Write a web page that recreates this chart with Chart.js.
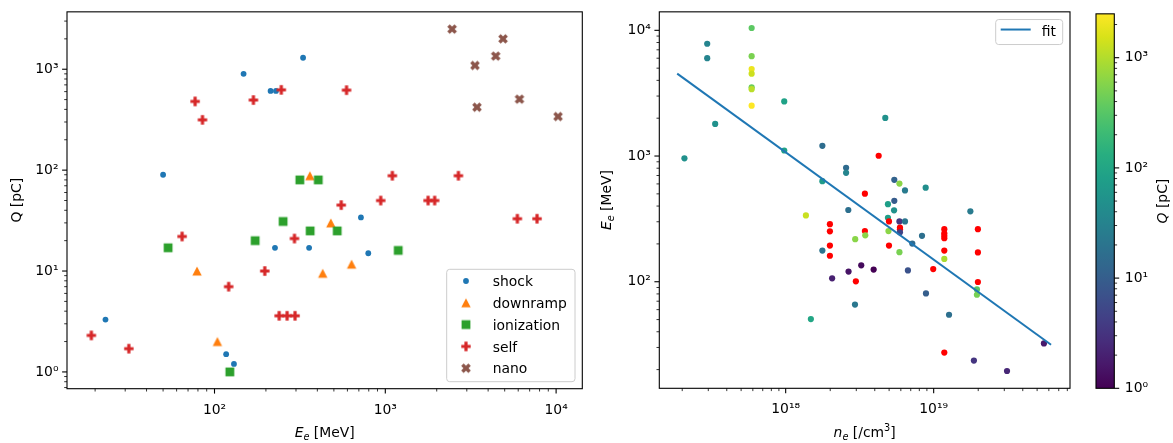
<!DOCTYPE html>
<html><head><meta charset="utf-8">
<script src="https://cdn.jsdelivr.net/npm/chart.js@4/dist/chart.umd.min.js"></script>
<style>
html,body{margin:0;padding:0;background:#fff;width:1173px;height:443px;overflow:hidden;}
canvas{position:absolute;top:0;}
</style></head><body>
<canvas id="c1" style="left:0px" width="600" height="443"></canvas>
<canvas id="c2" style="left:600px" width="480" height="443"></canvas>
<canvas id="c3" style="left:1080px" width="93" height="443"></canvas>
<script>
// ---------------- DATA ----------------
// Left panel: beam energy E_e [MeV] (x) vs. charge Q [pC] (y), by injection method
const seriesNames = ['shock', 'downramp', 'ionization', 'self', 'nano'];
const shockE = [23, 50, 117, 130, 148, 213, 229, 226, 330, 358, 720, 795];
const shockQ = [3.3, 90, 1.5, 1.2, 900, 610, 610, 17, 1300, 17, 34, 15];
const downrampE = [79, 104, 362, 430, 480, 635];
const downrampQ = [10, 2, 88, 9.5, 30, 11.7];
const ionizationE = [53.5, 123, 173, 252, 316, 363, 405, 523, 1190];
const ionizationQ = [17, 1, 20, 31, 80, 25, 80, 25, 16];
const selfE = [19, 31.5, 64.6, 77, 85, 121, 169, 197, 239, 246, 266, 294, 296, 552, 593, 940, 1100, 1780, 1945, 2680, 5930, 7730];
const selfQ = [2.3, 1.7, 22, 480, 315, 7, 495, 10, 3.6, 625, 3.6, 21, 3.6, 45, 620, 50, 88, 50, 50, 88, 33, 33];
const nanoE = [2460, 3350, 3440, 4430, 4890, 6100, 10260];
const nanoQ = [2500, 1090, 420, 1350, 2000, 505, 340];

// Right panel: plasma density n_e [/cm^3] (x) vs. E_e [MeV] (y), coloured by Q [pC] (null = no charge -> red)
const densityNe = [2.07e17, 2.95e17, 2.95e17, 3.34e17, 5.89e17, 5.89e17, 5.89e17, 5.89e17, 5.89e17, 5.89e17,
  5.89e17, 9.78e17, 9.78e17, 1.77e18, 2.56e18, 2.56e18, 1.77e18, 3.43e18, 4.25e18, 4.71e18,
  2.65e18, 1.37e18, 5.42e18, 5.87e18, 5.42e18, 4.91e18, 5.40e18, 4.91e18, 5.87e18, 6.40e18,
  4.99e18, 5.92e18, 5.92e18, 5.92e18, 4.95e18, 8.34e18, 7.17e18, 4.99e18, 5.87e18, 6.70e18,
  8.87e18, 1.18e19, 1.18e19, 1.18e19, 1.18e19, 1.18e19, 1.18e19, 9.93e18, 1.77e19, 1.99e19,
  1.99e19, 1.99e19, 1.96e19, 1.96e19, 1.27e19, 1.18e19, 1.87e19, 3.13e19, 5.56e19, 1.48e18,
  2.94e18, 1.99e18, 1.99e18, 3.43e18, 3.45e18, 2.95e18, 1.99e18, 1.99e18, 1.77e18, 3.24e18,
  3.93e18, 2.66e18, 2.06e18, 2.98e18, 6.40e18, 8.83e18];
const energyEe = [958, 7820, 6000, 1800, 10440, 6225, 4920, 4520, 3525, 3400,
  2515, 2720, 1107, 1205, 805, 735, 631, 502, 1005, 2010,
  372, 337, 647, 604, 440, 414, 370, 323, 302, 302,
  302, 270, 262, 247, 253, 232, 201, 194, 172, 123,
  80.8, 262, 243, 232, 222, 177, 152, 126, 363, 262,
  171, 99.5, 86.9, 78.8, 54.6, 27.3, 23.6, 19.5, 32.3, 50.5,
  65.8, 287, 252, 253, 234, 218, 194, 161, 177, 135,
  125, 120.5, 106.4, 100.8, 533, 560];
const chargeQ = [50, 33, 33, 50, 340, 505, 2000, 1350, 420, 1090,
  2500, 88, 88, 16, 15, 34, 70, null, null, 50,
  17, 1300, 11.7, 620, 9.5, 80, 50, 80, 3.6, 21,
  null, null, null, 5, 625, 17, 15, null, 495, 7,
  10, null, null, null, null, null, 900, null, 25, null,
  null, null, 315, 480, 17, null, 3.3, 2.3, 1.7, 100,
  22, null, null, null, 610, 610, null, null, 20, 1.2,
  1, 1.5, 2, null, 25, 45];
const fitNe = [1.85e17, 6.21e19];
const fitEe = [4520, 31.5];

// Tick labels (labelled decades) and axis limits
const leftXDecades = [1e2, 1e3, 1e4];
const leftYDecades = [1e0, 1e1, 1e2, 1e3];
const rightXDecades = [1e18, 1e19];
const rightYDecades = [1e2, 1e3, 1e4];
const cbarDecades = [1e0, 1e1, 1e2, 1e3];
const leftXLim = [13.69, 14235];
const leftYLim = [0.682, 3705];
const rightXLim = [1.40e17, 8.34e19];
const rightYLim = [14.2, 14030];

// ---------------- STYLE / HELPERS ----------------
const FONT = "'DejaVu Sans', sans-serif";
const FS = 13.9;
const tab10 = ['#1f77b4', '#ff7f0e', '#2ca02c', '#d62728', '#8c564b'];
const VIRIDIS = ['#440154','#48186a','#472d7b','#424086','#3b528b','#33638d','#2c728e','#26828e','#21918c',
  '#1fa088','#28ae80','#3fbc73','#5ec962','#84d44b','#addc30','#d8e219','#fde725'];

function hexRgb(h){ return [parseInt(h.slice(1,3),16), parseInt(h.slice(3,5),16), parseInt(h.slice(5,7),16)]; }
function viridis(t){
  t = Math.max(0, Math.min(1, t));
  const n = VIRIDIS.length - 1;
  const i = Math.min(n - 1, Math.floor(t * n));
  const f = t * n - i;
  const a = hexRgb(VIRIDIS[i]), b = hexRgb(VIRIDIS[i + 1]);
  return 'rgb(' + a.map((v, k) => Math.round(v + (b[k] - v) * f)).join(',') + ')';
}
const qKnown = chargeQ.filter(q => q != null);
const qMin = Math.min(...qKnown), qMax = Math.max(...qKnown);
const pointColors = chargeQ.map(q => q == null ? '#ff0000' : viridis(Math.log10(q / qMin) / Math.log10(qMax / qMin)));

const SUP = {'0':'⁰','1':'¹','2':'²','3':'³','4':'⁴','5':'⁵','6':'⁶','7':'⁷','8':'⁸','9':'⁹','-':'⁻'};
function isDecade(v){ const l = Math.log10(v); return Math.abs(l - Math.round(l)) < 1e-9; }
function decLabel(v){ return '10' + String(Math.round(Math.log10(v))).split('').map(c => SUP[c]).join(''); }
function minorTicks(lo, hi){
  const out = [];
  for (let e = Math.floor(Math.log10(lo)) - 1; e <= Math.ceil(Math.log10(hi)); e++)
    for (let m = 2; m <= 9; m++){ const v = m * Math.pow(10, e); if (v > lo && v < hi) out.push(v); }
  return out;
}
function pts(xs, ys){ return xs.map((x, i) => ({x: x, y: ys[i]})); }

function logAxis(lim, majors, o){
  const minors = minorTicks(lim[0], lim[1]);
  const all = majors.filter(v => v >= lim[0] && v <= lim[1]).concat(minors).sort((a, b) => a - b);
  return {
    type: 'logarithmic', position: o.position, min: lim[0], max: lim[1],
    afterBuildTicks: s => { s.ticks = all.map(v => ({value: v})); },
    afterFit: s => { if (o.width != null) s.width = o.width; if (o.height != null) s.height = o.height; },
    grid: {display: false, drawTicks: true, tickLength: 5},
    border: {display: false},
    title: {display: false},
    ticks: {autoSkip: false, maxRotation: 0, minRotation: 0, padding: o.pad, color: '#000',
      font: {family: FONT, size: FS}, callback: v => isDecade(v) ? decLabel(v) : ''}
  };
}

// marker images (matplotlib-like filled markers)
function markerCanvas(kind, color){
  const s = 14, c = document.createElement('canvas'); c.width = s; c.height = s;
  const g = c.getContext('2d'); g.fillStyle = color; g.translate(s / 2, s / 2);
  g.beginPath();
  if (kind === 'triangle'){ g.moveTo(0, -4.4); g.lineTo(4.7, 4.4); g.lineTo(-4.7, 4.4); }
  else if (kind === 'square'){ g.rect(-4.4, -4.4, 8.8, 8.8); }
  else {
    let a = 4.7, w = 1.6;
    if (kind === 'x'){ g.rotate(Math.PI / 4); a = 5.1; w = 1.75; }
    g.moveTo(-w,-a); g.lineTo(w,-a); g.lineTo(w,-w); g.lineTo(a,-w); g.lineTo(a,w); g.lineTo(w,w);
    g.lineTo(w,a); g.lineTo(-w,a); g.lineTo(-w,w); g.lineTo(-a,w); g.lineTo(-a,-w); g.lineTo(-w,-w);
  }
  g.closePath(); g.fill();
  return c;
}
const markerStyles = ['circle', markerCanvas('triangle', tab10[1]), markerCanvas('square', tab10[2]),
  markerCanvas('plus', tab10[3]), markerCanvas('x', tab10[4])];

function drawMarker(ctx, style, color, r, x, y){
  if (style === 'circle'){ ctx.fillStyle = color; ctx.beginPath(); ctx.arc(x, y, r, 0, 2 * Math.PI); ctx.fill(); }
  else ctx.drawImage(style, x - style.width / 2, y - style.height / 2);
}
function drawRich(ctx, segs, x, y, rot){
  ctx.save(); ctx.translate(x, y); ctx.rotate(rot);
  let total = 0;
  const m = segs.map(s => {
    const fs = (s.sub || s.sup) ? FS * 0.7 : FS;
    const font = (s.it ? 'italic ' : '') + fs + 'px ' + FONT;
    ctx.font = font; const w = ctx.measureText(s.t).width; total += w;
    return {t: s.t, font: font, w: w, dy: s.sub ? FS * 0.2 : (s.sup ? -FS * 0.4 : 0)};
  });
  let cx = -total / 2; ctx.fillStyle = '#000'; ctx.textBaseline = 'alphabetic'; ctx.textAlign = 'left';
  m.forEach(s => { ctx.font = s.font; ctx.fillText(s.t, cx, s.dy); cx += s.w; });
  ctx.restore();
}
function drawFrame(ctx, ca){
  ctx.save(); ctx.strokeStyle = '#000'; ctx.lineWidth = 1.1;
  ctx.strokeRect(ca.left, ca.top, ca.right - ca.left, ca.bottom - ca.top); ctx.restore();
}
function drawScaleTicks(ctx, scale, side, lim, majors){
  const ca = scale.chart.chartArea;
  ctx.save(); ctx.strokeStyle = '#000';
  const d = (v, len, lw) => {
    const p = scale.getPixelForValue(v);
    ctx.lineWidth = lw; ctx.beginPath();
    if (side === 'bottom'){ ctx.moveTo(p, ca.bottom); ctx.lineTo(p, ca.bottom + len); }
    else if (side === 'left'){ ctx.moveTo(ca.left, p); ctx.lineTo(ca.left - len, p); }
    else { ctx.moveTo(ca.right, p); ctx.lineTo(ca.right + len, p); }
    ctx.stroke();
  };
  majors.filter(v => v >= lim[0] && v <= lim[1]).forEach(v => d(v, 4.9, 1.1));
  minorTicks(lim[0], lim[1]).forEach(v => d(v, 2.8, 0.8));
  ctx.restore();
}
function legendBox(ctx, x, y, w, h){
  ctx.save(); ctx.beginPath();
  if (ctx.roundRect) ctx.roundRect(x, y, w, h, 3); else ctx.rect(x, y, w, h);
  ctx.fillStyle = 'rgba(255,255,255,0.8)'; ctx.fill();
  ctx.strokeStyle = '#cccccc'; ctx.lineWidth = 1; ctx.stroke(); ctx.restore();
}
const baseOpts = {responsive: false, animation: false, events: [],
  plugins: {legend: {display: false}, tooltip: {enabled: false}}};

// ---------------- LEFT CHART ----------------
const leftX = [shockE, downrampE, ionizationE, selfE, nanoE];
const leftY = [shockQ, downrampQ, ionizationQ, selfQ, nanoQ];
const leftRadius = [2.9, 5, 5, 5, 5];
new Chart(document.getElementById('c1'), {
  type: 'scatter',
  data: {datasets: seriesNames.map((name, i) => ({
    label: name, data: pts(leftX[i], leftY[i]), pointStyle: markerStyles[i], pointRadius: leftRadius[i],
    backgroundColor: tab10[i], borderColor: tab10[i], borderWidth: 0, pointBorderWidth: 0, order: 5 - i
  }))},
  options: Object.assign({}, baseOpts, {
    layout: {autoPadding: false, padding: {left: 0, top: 6, right: 17.7, bottom: 0}},
    scales: {
      x: logAxis(leftXLim, leftXDecades, {position: 'bottom', height: 54.3, pad: 8}),
      y: logAxis(leftYLim, leftYDecades, {position: 'left', width: 67, pad: 3.5})
    }
  }),
  plugins: [{
    id: 'decoLeft',
    afterDraw(chart){
      const ctx = chart.ctx, ca = chart.chartArea;
      drawFrame(ctx, ca);
      drawScaleTicks(ctx, chart.scales.x, 'bottom', leftXLim, leftXDecades);
      drawScaleTicks(ctx, chart.scales.y, 'left', leftYLim, leftYDecades);
      drawRich(ctx, [{t: 'E', it: 1}, {t: 'e', it: 1, sub: 1}, {t: ' [MeV]'}], (ca.left + ca.right) / 2, 437, 0);
      drawRich(ctx, [{t: 'Q [pC]'}], 21, (ca.top + ca.bottom) / 2, -Math.PI / 2);
      // legend
      const w = 128.3, h = 112.4, bx = ca.right - 7.3 - w, by = ca.bottom - 7 - h;
      legendBox(ctx, bx, by, w, h);
      ctx.save(); ctx.font = FS + 'px ' + FONT; ctx.textBaseline = 'alphabetic'; ctx.textAlign = 'left';
      chart.data.datasets.forEach((ds, i) => {
        const ry = by + 11.7 + i * 21.8;
        drawMarker(ctx, ds.pointStyle, ds.backgroundColor, ds.pointRadius, bx + 19.3, ry);
        ctx.fillStyle = '#000'; ctx.fillText(ds.label, bx + 46, ry + 5.2);
      });
      ctx.restore();
    }
  }]
});

// ---------------- RIGHT CHART ----------------
new Chart(document.getElementById('c2'), {
  type: 'scatter',
  data: {datasets: [
    {type: 'line', label: 'fit', data: pts(fitNe, fitEe), borderColor: '#1f77b4', borderWidth: 2,
      pointRadius: 0, fill: false, tension: 0, order: 0},
    {label: 'Q [pC]', data: pts(densityNe, energyEe), pointRadius: 3.1, pointBackgroundColor: pointColors,
      pointBorderWidth: 0, borderWidth: 0, order: 1}
  ]},
  options: Object.assign({}, baseOpts, {
    layout: {autoPadding: false, padding: {left: 0, top: 7.3, right: 10, bottom: 0}},
    scales: {
      x: logAxis(rightXLim, rightXDecades, {position: 'bottom', height: 54.7, pad: 8}),
      y: logAxis(rightYLim, rightYDecades, {position: 'left', width: 59.3, pad: 3.5})
    }
  }),
  plugins: [{
    id: 'decoRight',
    afterDraw(chart){
      const ctx = chart.ctx, ca = chart.chartArea;
      drawFrame(ctx, ca);
      drawScaleTicks(ctx, chart.scales.x, 'bottom', rightXLim, rightXDecades);
      drawScaleTicks(ctx, chart.scales.y, 'left', rightYLim, rightYDecades);
      drawRich(ctx, [{t: 'n', it: 1}, {t: 'e', it: 1, sub: 1}, {t: ' [/cm'}, {t: '3', sup: 1}, {t: ']'}],
        (ca.left + ca.right) / 2, 437, 0);
      drawRich(ctx, [{t: 'E', it: 1}, {t: 'e', it: 1, sub: 1}, {t: ' [MeV]'}], 11, (ca.top + ca.bottom) / 2, -Math.PI / 2);
      const ds = chart.data.datasets[0];
      const w = 67, h = 25, bx = ca.right - 7.3 - w, by = ca.top + 7.7;
      legendBox(ctx, bx, by, w, h);
      ctx.save();
      ctx.strokeStyle = ds.borderColor; ctx.lineWidth = ds.borderWidth;
      ctx.beginPath(); ctx.moveTo(bx + 5, by + 10); ctx.lineTo(bx + 35, by + 10); ctx.stroke();
      ctx.fillStyle = '#000'; ctx.font = FS + 'px ' + FONT; ctx.textBaseline = 'alphabetic';
      ctx.fillText(ds.label, bx + 46, by + 16);
      ctx.restore();
    }
  }]
});

// ---------------- COLORBAR ----------------
const cbarLim = [qMin, qMax];
new Chart(document.getElementById('c3'), {
  type: 'scatter',
  data: {datasets: [{data: []}]},
  options: Object.assign({}, baseOpts, {
    layout: {autoPadding: false, padding: {left: 16, top: 7.3, right: 0, bottom: 54.7}},
    scales: {
      x: {type: 'linear', display: false},
      y: logAxis(cbarLim, cbarDecades, {position: 'right', width: 58.7, pad: 5.5})
    }
  }),
  plugins: [{
    id: 'cbar',
    beforeDatasetsDraw(chart){
      const ctx = chart.ctx, ca = chart.chartArea;
      const g = ctx.createLinearGradient(0, ca.bottom, 0, ca.top);
      VIRIDIS.forEach((c, i) => g.addColorStop(i / (VIRIDIS.length - 1), c));
      ctx.save(); ctx.fillStyle = g; ctx.fillRect(ca.left, ca.top, ca.right - ca.left, ca.bottom - ca.top); ctx.restore();
    },
    afterDraw(chart){
      const ctx = chart.ctx, ca = chart.chartArea;
      drawFrame(ctx, ca);
      drawScaleTicks(ctx, chart.scales.y, 'right', cbarLim, cbarDecades);
      drawRich(ctx, [{t: 'Q', it: 1}, {t: ' [pC]'}], 87, (ca.top + ca.bottom) / 2, -Math.PI / 2);
    }
  }]
});
</script>
</body></html>
